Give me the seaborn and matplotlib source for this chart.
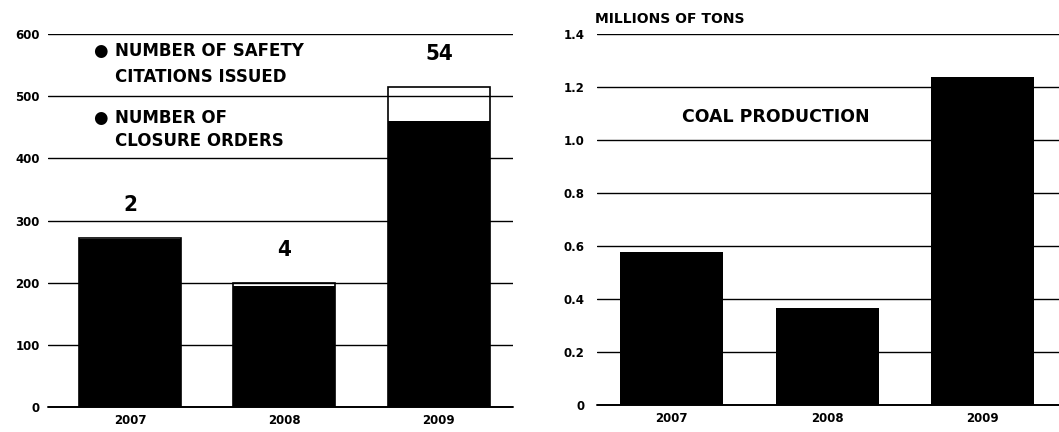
import matplotlib
matplotlib.use("Agg")
import matplotlib.pyplot as plt
import seaborn as sns
import pandas as pd

years = ["2007", "2008", "2009"]
citations = [270, 195, 460]
closure_orders = [2, 4, 54]
coal_production = [0.577, 0.366, 1.238]

left_ticks = [0, 100, 200, 300, 400, 500, 600]
left_ticklabels = ["0", "100", "200", "300", "400", "500", "600"]
right_ticks = [0, 0.2, 0.4, 0.6, 0.8, 1.0, 1.2, 1.4]
right_ticklabels = ["0", "0.2", "0.4", "0.6", "0.8", "1.0", "1.2", "1.4"]

sns.set_theme(style="white")
plt.rcParams["font.family"] = ["DejaVu Sans"]

df_left = pd.DataFrame({
    "year": years,
    "citations": citations,
    "closure": closure_orders,
})
df_left["total"] = df_left["citations"] + df_left["closure"]
df_right = pd.DataFrame({"year": years, "coal": coal_production})

W, H = 1059, 432
fig = plt.figure(figsize=(W / 100, H / 100), dpi=100)
fig.patch.set_facecolor("white")

axL = fig.add_axes([48 / W, (H - 407) / H, 465 / W, 373 / H])
axR = fig.add_axes([597 / W, (H - 405) / H, 462 / W, 371 / H])

for ax in (axL, axR):
    ax.set_facecolor("white")
    for s in ax.spines.values():
        s.set_visible(False)
    ax.set_axisbelow(True)

# Left: stacked citations (black) + closure orders (open box)
sns.barplot(data=df_left, x="year", y="total", ax=axL, color="white",
            edgecolor="black", linewidth=1.2, width=0.66, fill=False,
            errorbar=None)
sns.barplot(data=df_left, x="year", y="citations", ax=axL, color="black",
            edgecolor="black", linewidth=0, width=0.66, saturation=1,
            errorbar=None)
axL.set_ylim(0, 600)
axL.set_xlim(-0.53, 2.48)
axL.set_yticks(left_ticks)
axL.set_yticklabels(left_ticklabels)
axL.yaxis.grid(True, color="black", linewidth=1.0)
axL.xaxis.grid(False)

for i, (tot, n) in enumerate(zip(df_left["total"], closure_orders)):
    axL.annotate(str(n), xy=(i, tot), xytext=(0, 24), textcoords="offset points",
                 ha="center", va="center", fontsize=16, fontweight="bold",
                 fontstretch="condensed", color="black")

legend_lines = [
    (0.954, "NUMBER OF SAFETY", True),
    (0.885, "CITATIONS ISSUED", False),
    (0.775, "NUMBER OF", True),
    (0.713, "CLOSURE ORDERS", False),
]
for y, txt, bullet in legend_lines:
    if bullet:
        axL.text(0.097, y, "\u25CF", transform=axL.transAxes, ha="left",
                 va="center", fontsize=12, color="black")
    axL.text(0.144, y, txt, transform=axL.transAxes, ha="left", va="center",
             fontsize=12, fontweight="bold", color="black")

# Right: coal production
sns.barplot(data=df_right, x="year", y="coal", ax=axR, color="black",
            edgecolor="black", linewidth=0, width=0.66, saturation=1,
            errorbar=None)
axR.set_ylim(0, 1.4)
axR.set_xlim(-0.48, 2.49)
axR.set_yticks(right_ticks)
axR.set_yticklabels(right_ticklabels)
axR.yaxis.grid(True, color="black", linewidth=1.0)
axR.xaxis.grid(False)

axR.text(0.387, 0.776, "COAL PRODUCTION", transform=axR.transAxes,
         ha="center", va="center", fontsize=12.5, fontweight="bold",
         color="black")
axR.text(-0.004, 1.04, "MILLIONS OF TONS", transform=axR.transAxes,
         ha="left", va="center", fontsize=10, fontweight="bold",
         color="black")

for ax, pad in ((axL, 6), (axR, 9)):
    ax.axhline(0, color="black", linewidth=1.4, clip_on=False, zorder=0.5)
    ax.set_xlabel("")
    ax.set_ylabel("")
    ax.tick_params(axis="both", length=0, labelsize=8.5, colors="black")
    ax.tick_params(axis="y", pad=pad)
    ax.tick_params(axis="x", pad=5)
    for lab in ax.get_xticklabels() + ax.get_yticklabels():
        lab.set_fontweight("bold")

fig.savefig("out.png", dpi=100, facecolor="white")
